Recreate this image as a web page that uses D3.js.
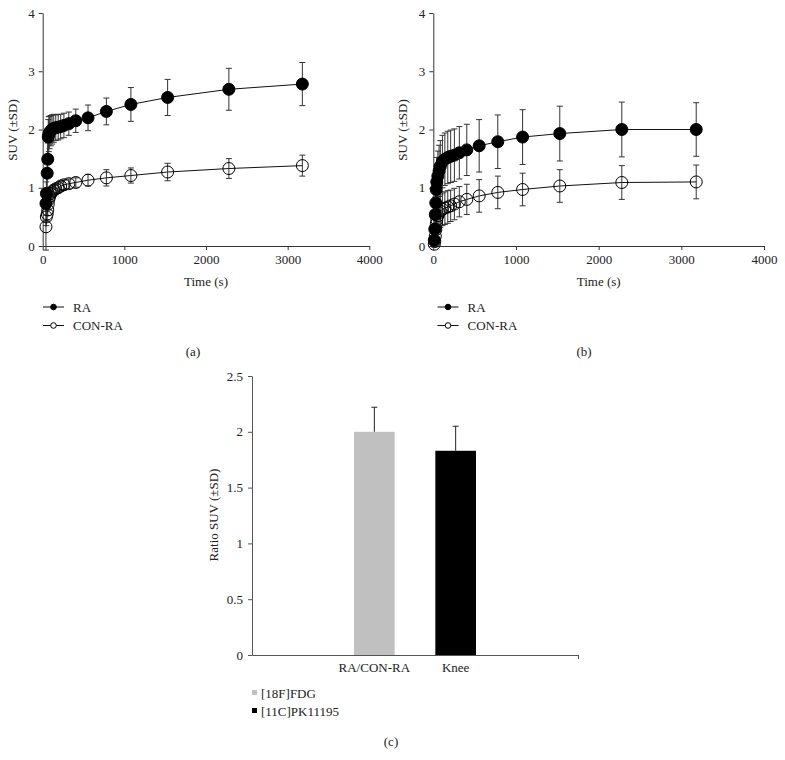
<!DOCTYPE html>
<html><head><meta charset="utf-8">
<script src="https://cdn.jsdelivr.net/npm/d3@7"></script>
<style>
body{margin:0;background:#fff;}
text{font-family:"Liberation Serif","DejaVu Serif",serif;fill:#222;}
</style></head>
<body>
<svg id="chart" width="785" height="760"></svg>
<script>
// ---- data ----
const timesA = [40, 45, 55, 62, 68, 75, 85, 100, 115, 135, 160, 190, 220, 260, 320, 405, 555, 780, 1080, 1530, 2280, 3180];
const timesB = [12, 18, 24, 30, 36, 42, 55, 70, 85, 110, 140, 175, 210, 255, 315, 405, 555, 780, 1080, 1530, 2280, 3180];
const seriesNames = ["RA", "CON-RA"];
// panel (a)
const raA    = [0.73, 0.90, 1.25, 1.49, 1.87, 1.92, 1.95, 1.98, 2.00, 2.02, 2.03, 2.04, 2.05, 2.07, 2.10, 2.15, 2.20, 2.31, 2.43, 2.55, 2.69, 2.78];
const raSdA  = [0.20, 0.20, 0.25, 0.28, 0.30, 0.30, 0.28, 0.26, 0.25, 0.24, 0.22, 0.22, 0.21, 0.21, 0.20, 0.20, 0.22, 0.23, 0.29, 0.31, 0.36, 0.37];
const conA   = [0.33, 0.50, 0.55, 0.62, 0.72, 0.80, 0.85, 0.90, 0.93, 0.96, 0.98, 1.00, 1.03, 1.05, 1.07, 1.09, 1.13, 1.17, 1.21, 1.27, 1.33, 1.38];
const conSdA = [0.40, 0.15, 0.12, 0.10, 0.10, 0.10, 0.09, 0.09, 0.08, 0.08, 0.08, 0.08, 0.08, 0.08, 0.08, 0.08, 0.10, 0.14, 0.13, 0.15, 0.17, 0.18];
// panel (b)
const raB    = [0.10, 0.29, 0.54, 0.74, 0.97, 1.10, 1.20, 1.29, 1.37, 1.45, 1.49, 1.52, 1.54, 1.56, 1.60, 1.65, 1.72, 1.79, 1.87, 1.93, 2.00, 2.00];
const raSdB  = [0.10, 0.20, 0.30, 0.35, 0.40, 0.42, 0.43, 0.44, 0.44, 0.45, 0.45, 0.45, 0.45, 0.45, 0.45, 0.44, 0.45, 0.46, 0.47, 0.47, 0.47, 0.46];
const conB   = [0.03, 0.08, 0.17, 0.28, 0.38, 0.45, 0.52, 0.57, 0.60, 0.63, 0.65, 0.67, 0.69, 0.72, 0.76, 0.80, 0.86, 0.92, 0.97, 1.03, 1.09, 1.10];
const conSdB = [0.05, 0.08, 0.12, 0.18, 0.22, 0.25, 0.27, 0.28, 0.28, 0.28, 0.28, 0.28, 0.27, 0.27, 0.26, 0.26, 0.28, 0.28, 0.28, 0.28, 0.29, 0.29];
const xTicks = [0, 1000, 2000, 3000, 4000];
const yTicks = [0, 1, 2, 3, 4];
// panel (c)
const barCategories = ["RA/CON-RA", "Knee"];
const barSeries = ["[18F]FDG", "[11C]PK11195"];
const barValues = [2.00, 1.83];
const barSd = [0.22, 0.22];
const barColors = ["#c0c0c0", "#000000"];
const barYTicks = [0, 0.5, 1, 1.5, 2, 2.5];

const svg = d3.select("#chart");
const FS = "13px";
const FF = '"Liberation Serif","DejaVu Serif",serif';

function styleAxis(a, col) {
  a.attr("font-family", FF).attr("font-size", FS);
  a.selectAll("path,line").attr("stroke", col);
  a.selectAll("text").style("font-size", FS).style("font-family", FF).attr("fill", "#222");
}

function linePanel(cfg) {
  const g = svg.append("g");
  const x = d3.scaleLinear().domain([0, 4000]).range([cfg.x0, cfg.x1]);
  const y = d3.scaleLinear().domain([0, 4]).range([246, 13]);
  const times = cfg.times;

  const ax = g.append("g").attr("transform", "translate(0,246)")
    .call(d3.axisBottom(x).tickValues(xTicks).tickSize(4).tickSizeOuter(0).tickPadding(5).tickFormat(d3.format("d")));
  const ay = g.append("g").attr("transform", `translate(${cfg.x0},0)`)
    .call(d3.axisLeft(y).tickValues(yTicks).tickSize(4).tickSizeOuter(0).tickPadding(4).tickFormat(d3.format("d")));
  styleAxis(ax, "#333");
  styleAxis(ay, "#333");

  g.append("text").attr("x", (cfg.x0 + cfg.x1) / 2).attr("y", 286).attr("text-anchor", "middle")
    .style("font-size", FS).text("Time (s)");
  g.append("text").attr("transform", `translate(${cfg.x0 - 26},130) rotate(-90)`).attr("text-anchor", "middle")
    .style("font-size", FS).text("SUV (±SD)");

  const sets = [
    {v: cfg.ra, sd: cfg.raSd, filled: true},
    {v: cfg.con, sd: cfg.conSd, filled: false}
  ];
  const line = d3.line().x((d, i) => x(times[i])).y(d => y(d));
  sets.forEach(s => {
    g.append("path").datum(s.v).attr("d", line).attr("fill", "none").attr("stroke", "#111").attr("stroke-width", 1);
  });
  sets.forEach(s => {
    const eb = g.append("g").attr("stroke", "#333").attr("stroke-width", 1);
    s.v.forEach((v, i) => {
      const cx = x(times[i]);
      const top = y(v + s.sd[i]), bot = y(v - s.sd[i]);
      eb.append("line").attr("x1", cx).attr("x2", cx).attr("y1", top).attr("y2", bot);
      eb.append("line").attr("x1", cx - 3).attr("x2", cx + 3).attr("y1", top).attr("y2", top);
      eb.append("line").attr("x1", cx - 3).attr("x2", cx + 3).attr("y1", bot).attr("y2", bot);
    });
  });
  sets.forEach(s => {
    g.append("g").selectAll("circle").data(s.v).join("circle")
      .attr("cx", (d, i) => x(times[i])).attr("cy", d => y(d)).attr("r", 6)
      .attr("fill", s.filled ? "#000" : "none").attr("stroke", "#000").attr("stroke-width", 1);
  });

  // legend
  seriesNames.forEach((name, i) => {
    const ly = 307 + i * 18.5;
    g.append("line").attr("x1", cfg.lx).attr("x2", cfg.lx + 21).attr("y1", ly).attr("y2", ly).attr("stroke", "#111");
    g.append("circle").attr("cx", cfg.lx + 10.5).attr("cy", ly).attr("r", 2.8)
      .attr("fill", i === 0 ? "#000" : "#fff").attr("stroke", "#000");
    g.append("text").attr("x", cfg.lx + 30).attr("y", ly + 4.5).style("font-size", FS).text(name);
  });
  g.append("text").attr("x", cfg.labelX).attr("y", 356).attr("text-anchor", "middle").style("font-size", FS).text(cfg.label);
}

linePanel({x0: 42.7, x1: 369.3, times: timesA, ra: raA, raSd: raSdA, con: conA, conSd: conSdA, lx: 43, labelX: 193, label: "(a)"});
linePanel({x0: 433.3, x1: 764, times: timesB, ra: raB, raSd: raSdB, con: conB, conSd: conSdB, lx: 437.5, labelX: 584, label: "(b)"});

// ---- panel (c) ----
(function () {
  const g = svg.append("g");
  const left = 252, right = 578, bottom = 655, top = 376;
  const y = d3.scaleLinear().domain([0, 2.5]).range([bottom, top]);
  const x0 = d3.scaleBand().domain(["group"]).range([left, right]);
  const cx = x0("group") + x0.bandwidth() / 2;
  const x1 = d3.scaleBand().domain(barSeries).range([cx - 61, cx + 61]).paddingInner(0.5);

  const ay = g.append("g").attr("transform", `translate(${left},0)`)
    .call(d3.axisLeft(y).tickValues(barYTicks).tickSize(4).tickSizeOuter(0).tickPadding(5).tickFormat(d => d3.format("")(d)));
  styleAxis(ay, "#555");

  const xa = d3.scaleLinear().domain([0, 1]).range([left, right]);
  const ax = g.append("g").attr("transform", `translate(0,${bottom})`)
    .call(d3.axisBottom(xa).tickValues([1]).tickSize(4).tickSizeOuter(0).tickFormat(""));
  styleAxis(ax, "#555");

  g.selectAll("rect.bar").data(barValues).join("rect").attr("class", "bar")
    .attr("x", (d, i) => x1(barSeries[i])).attr("width", x1.bandwidth())
    .attr("y", d => y(d)).attr("height", d => bottom - y(d))
    .attr("fill", (d, i) => barColors[i]);

  barValues.forEach((v, i) => {
    const bx = x1(barSeries[i]) + x1.bandwidth() / 2;
    g.append("line").attr("x1", bx).attr("x2", bx).attr("y1", y(v)).attr("y2", y(v + barSd[i])).attr("stroke", "#222");
    g.append("line").attr("x1", bx - 3).attr("x2", bx + 3).attr("y1", y(v + barSd[i])).attr("y2", y(v + barSd[i])).attr("stroke", "#222");
    g.append("text").attr("x", bx).attr("y", 672).attr("text-anchor", "middle").style("font-size", FS).text(barCategories[i]);
  });

  g.append("text").attr("transform", `translate(218,515) rotate(-90)`).attr("text-anchor", "middle")
    .style("font-size", FS).text("Ratio SUV (±SD)");

  barSeries.forEach((s, i) => {
    const ly = 693 + i * 18;
    g.append("rect").attr("x", 252).attr("y", ly - 3).attr("width", 5).attr("height", 5).attr("fill", barColors[i]);
    g.append("text").attr("x", 261).attr("y", ly + 4.5).style("font-size", FS).text(s);
  });
  g.append("text").attr("x", 391).attr("y", 746).attr("text-anchor", "middle").style("font-size", FS).text("(c)");
})();
</script>
</body></html>
